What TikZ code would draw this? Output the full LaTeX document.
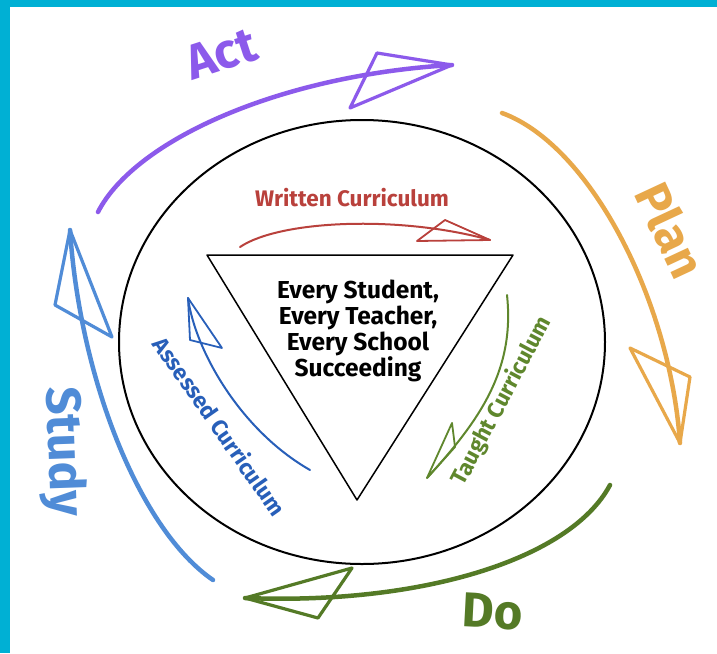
\documentclass[tikz,border=0pt]{standalone}
\usepackage{fontspec}
\setmainfont{Fira Sans}
\definecolor{myCyan}{RGB}{0,176,212}
\definecolor{myPurple}{RGB}{140,90,235}
\definecolor{myOrange}{RGB}{232,168,74}
\definecolor{myGreen}{RGB}{84,122,38}
\definecolor{myBlue}{RGB}{80,140,215}
\definecolor{myRed}{RGB}{185,65,60}
\definecolor{myDarkBlue}{RGB}{40,95,185}
\definecolor{myOlive}{RGB}{95,135,45}
\tikzset{
	cyclearc/.style={line width=4.5pt, line cap=round, line join=round},
	innerarc/.style={line width=2pt, line cap=round, line join=round},
	bighead/.style={line width=3.2pt, line join=round},
	smallhead/.style={line width=1.8pt, line join=round},
	phase/.style={font=\fontsize{49}{49}\selectfont\bfseries},
	curr/.style={font=\fontsize{22.5}{22.5}\selectfont\bfseries},
}

\begin{document}
\begin{tikzpicture}[x=1pt, y=-1pt]
			\useasboundingbox (0,0) rectangle (717,653);
			\fill[white] (0,0) rectangle (717,653);
			\fill[myCyan] (0,0) rectangle (717,7);
			\fill[myCyan] (0,0) rectangle (10,653);

			% circle and goal triangle
			\draw[line width=2pt] (362,342) ellipse [x radius=243pt, y radius=222pt];
			\draw[line width=1.5pt, line join=round] (207,255) -- (513,255) -- (357,500) -- cycle;
			\node[align=center, font=\fontsize{24.5}{26}\selectfont\bfseries] (goal) at (358,331)
				{Every Student,\\Every Teacher,\\Every School\\Succeeding};

			% phase labels
			\node[phase, text=myPurple, rotate=18] (act) at (221,54) {Act};
			\node[phase, text=myOrange, rotate=-65] (plan) at (671,230) {Plan};
			\node[phase, text=myGreen, rotate=-3] (do) at (493,612) {Do};
			\node[phase, text=myBlue, rotate=-88] (study) at (62,452) {Study};

			% curriculum labels
			\node[curr, text=myRed] (written) at (352,198) {Written Curriculum};
			\node[curr, text=myDarkBlue, rotate=-55] (assessed) at (220,426) {Assessed Curriculum};
			\node[curr, text=myOlive, rotate=62] (taught) at (502,401) {Taught Curriculum};

			% ends of the arrows
			\coordinate (act-s) at (98,212);
			\coordinate (act-t) at (452,65);
			\coordinate (plan-s) at (502,113);
			\coordinate (plan-t) at (680,443);
			\coordinate (do-s) at (610,485);
			\coordinate (do-t) at (245,598);
			\coordinate (study-s) at (213,580);
			\coordinate (study-t) at (70,230);
			\coordinate (written-s) at (240,247);
			\coordinate (written-t) at (490,240);
			\coordinate (assessed-s) at (310,470);
			\coordinate (assessed-t) at (188,298);
			\coordinate (taught-s) at (507,295);
			\coordinate (taught-t) at (427,478);

			% outer cycle
			\draw[cyclearc, myPurple] (act-s) .. controls (135,140) and (280,75) .. (act-t);
			\draw[bighead, myPurple] (377,53) -- (act-t) -- (350,108) -- cycle;
			\draw[cyclearc, myOrange] (plan-s) .. controls (590,145) and (670,300) .. (plan-t);
			\draw[bighead, myOrange] (630,348) -- (690,377) -- (plan-t) -- cycle;
			\draw[cyclearc, myGreen] (do-s) .. controls (570,560) and (420,605) .. (do-t);
			\draw[bighead, myGreen] (352,568) -- (do-t) -- (318,618) -- cycle;
			\draw[cyclearc, myBlue] (study-s) .. controls (140,530) and (80,380) .. (study-t);
			\draw[bighead, myBlue] (55,305) -- (study-t) -- (112,337) -- cycle;

			% inner arrows
			\draw[innerarc, myRed] (written-s) .. controls (280,220) and (400,215) .. (written-t);
			\draw[smallhead, myRed] (445,220) -- (written-t) -- (417,241) -- cycle;
			\draw[innerarc, myDarkBlue] (assessed-s) .. controls (240,430) and (195,350) .. (assessed-t);
			\draw[smallhead, myDarkBlue] (190,340) -- (assessed-t) -- (222,348) -- cycle;
			\draw[innerarc, myOlive] (taught-s) .. controls (515,370) and (480,420) .. (taught-t);
			\draw[smallhead, myOlive] (452,423) -- (taught-t) -- (455,447) -- cycle;
		\end{tikzpicture}
\end{document}
